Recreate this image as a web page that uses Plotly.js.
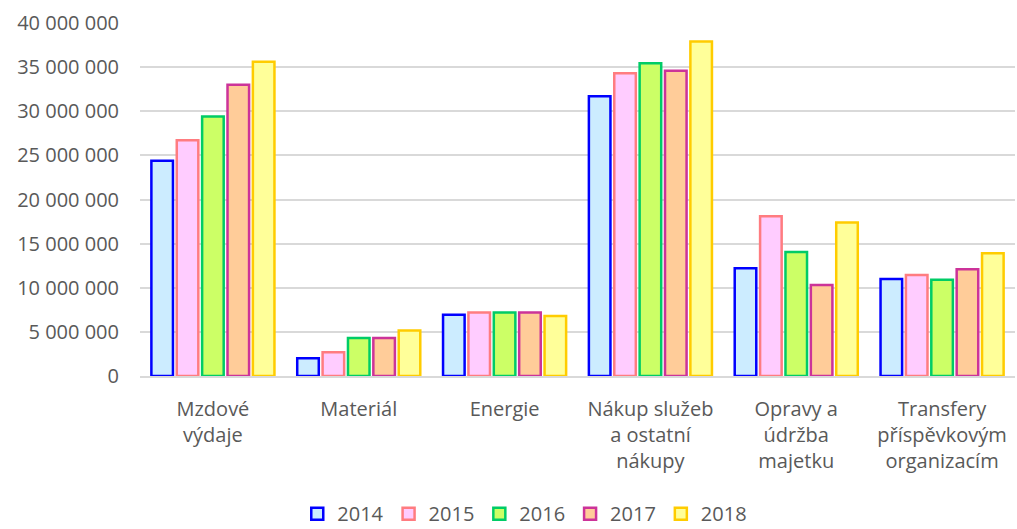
<!DOCTYPE html>
<html><head><meta charset="utf-8">
<script src="https://cdn.plot.ly/plotly-3.0.1.min.js"></script>
<style>html,body{margin:0;padding:0;background:#fff}#chart{width:1017px;height:529px}</style>
</head><body><div id="chart"></div>
<script>
const categories = ["Mzdové<br>výdaje", "Materiál", "Energie", "Nákup služeb<br>a ostatní<br>nákupy", "Opravy a<br>údržba<br>majetku", "Transfery<br>příspěvkovým<br>organizacím"];
const years = ["2014", "2015", "2016", "2017", "2018"];
const v2014 = [24400000, 2000000, 6950000, 31700000, 12200000, 11000000];
const v2015 = [26700000, 2700000, 7200000, 34300000, 18100000, 11450000];
const v2016 = [29400000, 4300000, 7200000, 35450000, 14050000, 10900000];
const v2017 = [33000000, 4300000, 7200000, 34600000, 10300000, 12100000];
const v2018 = [35600000, 5150000, 6800000, 37900000, 17400000, 13900000];
const seriesValues = [v2014, v2015, v2016, v2017, v2018];
const fills = ["#CCECFF", "#FFCCFF", "#CCFF66", "#FFCC99", "#FFFF99"];
const lines = ["#0000FF", "#FF7C80", "#00CC66", "#CC3399", "#FFCC00"];

const traces = years.map((y, i) => ({
  type: "bar", name: y, x: categories, y: seriesValues[i],
  marker: {color: fills[i], line: {color: lines[i], width: 2.5}},
  hoverinfo: "skip"
}));

const layout = {
  width: 1017, height: 529,
  margin: {l: 140, r: 2, t: 23, b: 153, autoexpand: false},
  paper_bgcolor: "#fff", plot_bgcolor: "#fff",
  barmode: "group", bargap: 0.13, bargroupgap: 0.15,
  separators: ", ",
  font: {family: "Open Sans, sans-serif", color: "#595959", size: 20},
  xaxis: {tickfont: {size: 20, color: "#595959"}, tickangle: 0, showline: true, linecolor: "#D9D9D9", linewidth: 2, ticks: "", ticklabelstandoff: 14, automargin: false},
  yaxis: {range: [0, 40000000], dtick: 5000000, tickformat: ",d", gridcolor: "#D9D9D9", gridwidth: 2,
          zeroline: false, ticks: "", tickfont: {size: 20, color: "#595959"}, ticklabelstandoff: 20, automargin: false},
  showlegend: true,
  legend: {orientation: "h", x: 0.516, xanchor: "center", xref: "container", y: -0.39, yanchor: "middle", yref: "paper",
           font: {size: 20, color: "#595959"}, traceorder: "normal", tracegroupgap: 0, itemwidth: 30}
};
Plotly.newPlot("chart", traces, layout, {staticPlot: true});
</script></body></html>
